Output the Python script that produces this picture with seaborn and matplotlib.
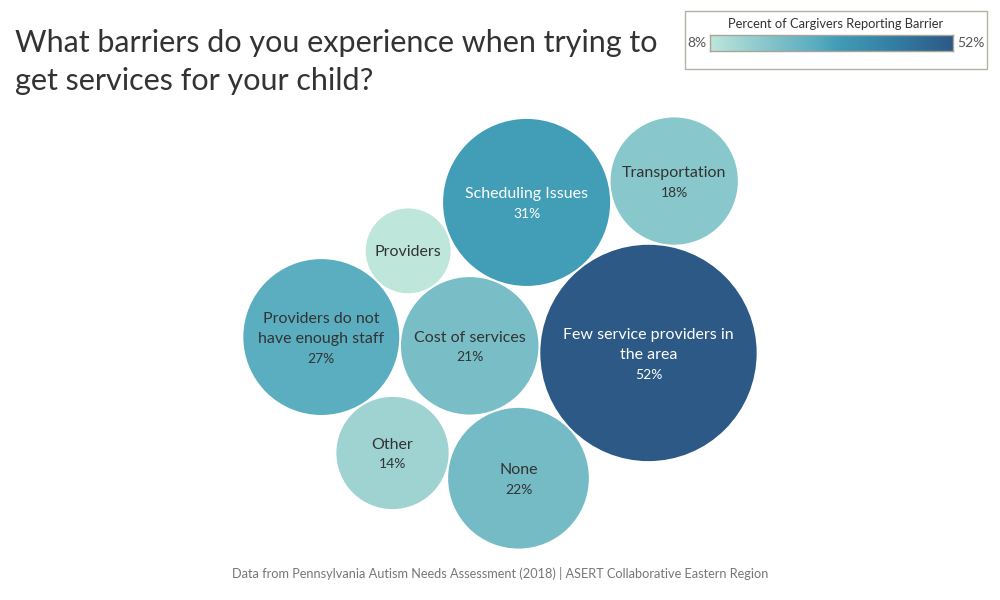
import numpy as np
import matplotlib
matplotlib.use("Agg")
import matplotlib.pyplot as plt
from matplotlib.patches import Circle, Rectangle
from matplotlib.colors import LinearSegmentedColormap
import seaborn as sns

sns.set_theme(style="white")
plt.rcParams['font.family'] = ['Lato', 'DejaVu Sans']

# data
barriers = ["Few service providers in\nthe area", "Scheduling Issues", "Transportation",
            "Cost of services", "None", "Providers", "Providers do not\nhave enough staff",
            "Other"]
pct = [52, 31, 18, 21, 22, 8, 27, 14]
show_pct = [True, True, True, True, True, False, True, True]

# packing: each bubble touches two earlier ones (index a, index b, side)
first_angle = 231
touch = [None, None, (0, 1, 1), (0, 1, -1), (0, 3, -1), (1, 3, 1), (5, 3, 1), (6, 4, 1)]

cmap = LinearSegmentedColormap.from_list(
    "blueteal",
    [(0.0, "#bfe6db"), (0.136, "#9dd3d2"), (0.3, "#78bdc7"), (0.43, "#5aaec0"),
     (0.52, "#429db7"), (0.75, "#347fa4"), (1.0, "#2c5985")])

scale = 15.0   # px radius per sqrt(percent)
gap = 2.0
radii = scale * np.sqrt(np.array(pct, dtype=float))


def tangent(ca, ra, cb, rb, r, side):
    da, db = ra + r + gap, rb + r + gap
    d = np.linalg.norm(cb - ca)
    u = (cb - ca) / d
    perp = np.array([-u[1], u[0]])
    a = (da**2 - db**2 + d**2) / (2 * d)
    h = np.sqrt(max(da**2 - a**2, 0))
    return ca + a * u + side * h * perp


centers = np.zeros((len(pct), 2))
ang = np.deg2rad(first_angle)
centers[1] = (radii[0] + radii[1] + gap) * np.array([np.cos(ang), np.sin(ang)])
for i in range(2, len(pct)):
    a, b, s = touch[i]
    centers[i] = tangent(centers[a], radii[a], centers[b], radii[b], radii[i], s)

# center the pack in the drawing area
lo = (centers - radii[:, None]).min(axis=0)
hi = (centers + radii[:, None]).max(axis=0)
centers += np.array([500, 333]) - (lo + hi) / 2

fig = plt.figure(figsize=(10, 6), dpi=100)
ax = fig.add_axes([0, 0, 1, 1])
ax.set_xlim(0, 1000)
ax.set_ylim(600, 0)
ax.axis("off")

vmin, vmax = min(pct), max(pct)
for name, v, sp, (x, y), r in zip(barriers, pct, show_pct, centers, radii):
    col = cmap((v - vmin) / (vmax - vmin))
    ax.add_patch(Circle((x, y), r, facecolor=col, edgecolor="none"))
    tc = "white" if v > 28 else "#333333"
    nlines = name.count("\n") + 1
    total = 21 * nlines + (18 if sp else 0)
    top = -total / 2
    ax.text(x, y + top + 21 * nlines / 2 + 1, name, ha="center", va="center",
            fontsize=11.5, color=tc, linespacing=1.52)
    if sp:
        ax.text(x, y + top + 21 * nlines + 10, f"{v}%", ha="center", va="center",
                fontsize=10, color=tc)

# title
fig.text(0.015, 1 - 52 / 600, "What barriers do you experience when trying to",
         fontsize=22, color="#333333", va="baseline")
fig.text(0.015, 1 - 90 / 600, "get services for your child?",
         fontsize=22, color="#333333", va="baseline")

# colour legend
fig.patches.append(Rectangle((685 / 1000, 1 - 69 / 600), 302 / 1000, 58 / 600,
                             transform=fig.transFigure, facecolor="none",
                             edgecolor="#b4b0a4", lw=1))
fig.text(836 / 1000, 1 - 24 / 600, "Percent of Cargivers Reporting Barrier",
         ha="center", va="center", fontsize=9.3, color="#333333")
cax = fig.add_axes([710 / 1000, 1 - 51 / 600, 243 / 1000, 16 / 600])
cax.imshow(np.linspace(0, 1, 256)[None, :], cmap=cmap, aspect="auto")
cax.set_xticks([])
cax.set_yticks([])
for sp_ in cax.spines.values():
    sp_.set_color("#a8a49a")
    sp_.set_linewidth(1)
fig.text(707 / 1000, 1 - 43 / 600, f"{vmin}%", ha="right", va="center",
         fontsize=10, color="#555555")
fig.text(957 / 1000, 1 - 43 / 600, f"{vmax}%", ha="left", va="center",
         fontsize=10, color="#555555")

# source
fig.text(0.5, 1 - 573 / 600,
         "Data from Pennsylvania Autism Needs Assessment (2018) | ASERT Collaborative Eastern Region",
         ha="center", va="center", fontsize=9.2, color="#777777")

fig.savefig("out.png", dpi=100)
